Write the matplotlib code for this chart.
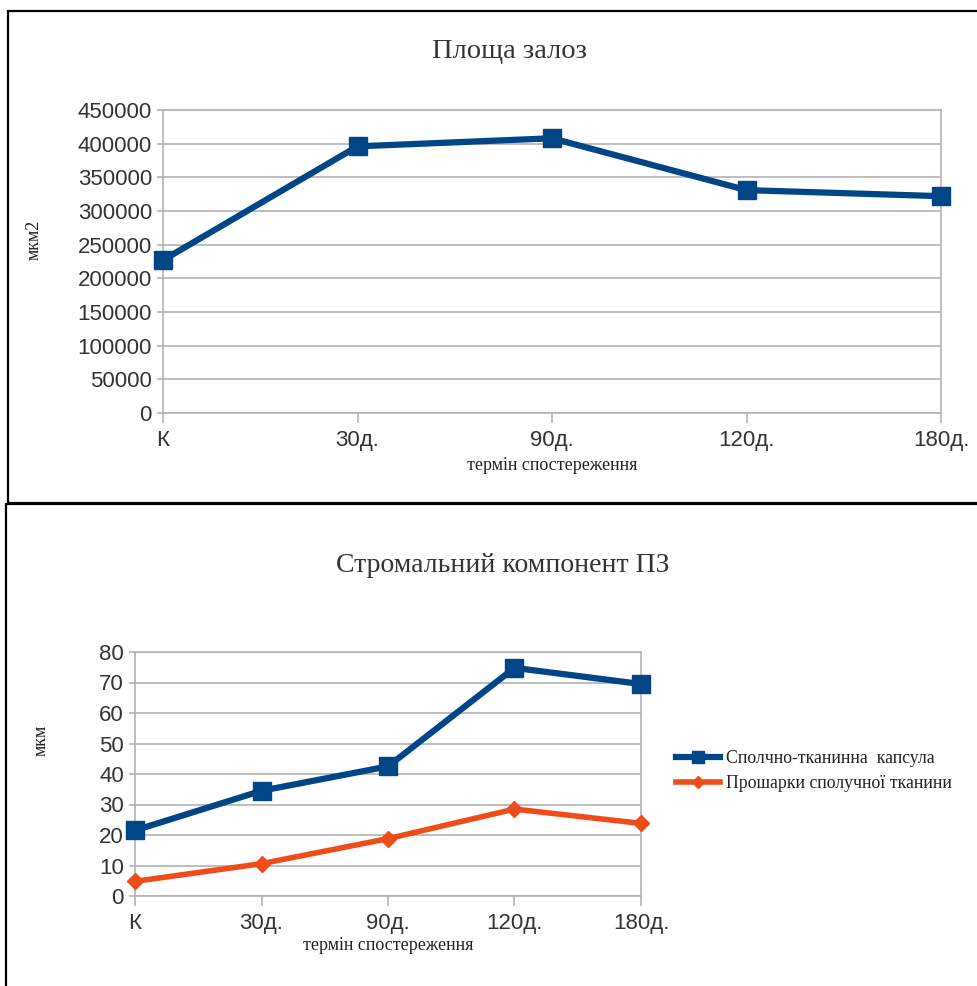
import matplotlib.pyplot as plt
from matplotlib.patches import Rectangle
from matplotlib.lines import Line2D

# observation terms
categories = ["К", "30д.", "90д.", "120д.", "180д."]

# gland area, mkm^2
area = [227000, 396000, 408000, 331000, 322000]

# stromal component, mkm
capsule = [21.5, 34.5, 42.5, 74.8, 69.5]
layers = [4.8, 10.6, 18.8, 28.5, 23.8]

blue = "#004586"
orange = "#ee4d1a"
grid_col = "#b3b3b3"
text_col = "#333333"
sans = "Liberation Sans"
serif = "Liberation Serif"

fig = plt.figure(figsize=(9.77, 9.86), dpi=100)
W, H = 977, 986


def px_axes(x0, y0, x1, y1):
    # axes from pixel box (top-left origin)
    return fig.add_axes([x0 / W, 1 - y1 / H, (x1 - x0) / W, (y1 - y0) / H])


def style_axes(ax, yticks, ymax):
    x = range(len(categories))
    ax.set_xlim(0, len(categories) - 1)
    ax.set_ylim(0, ymax)
    ax.set_xticks(list(x))
    ax.set_xticklabels(categories, fontfamily=sans, fontsize=16, color=text_col)
    ax.set_yticks(yticks)
    ax.set_yticklabels([str(v) for v in yticks], fontfamily=sans, fontsize=16,
                       color=text_col)
    ax.yaxis.grid(True, color=grid_col, lw=1.2)
    ax.set_axisbelow(True)
    for s in ax.spines.values():
        s.set_color(grid_col)
        s.set_linewidth(1.2)
    ax.tick_params(axis="x", length=7, width=1.2, color=grid_col, pad=5)
    ax.tick_params(axis="y", length=4, width=1.2, color=grid_col, pad=4)


# panel frames
fig.add_artist(Rectangle((8 / W, 1 - 503 / H), 1.0, 492 / H, transform=fig.transFigure,
                         fill=False, ec="black", lw=1.6))
fig.add_artist(Rectangle((6 / W, 1 - 1000 / H), 1.0, 496 / H, transform=fig.transFigure,
                         fill=False, ec="black", lw=1.6))

# top chart
ax1 = px_axes(163, 110, 941, 413)
style_axes(ax1, list(range(0, 450001, 50000)), 450000)
ax1.plot(range(len(categories)), area, color=blue, lw=4.5, marker="s", ms=13,
         clip_on=False, zorder=3)
ax1.set_xlabel("термін спостереження", fontfamily=serif, fontsize=13, color="#222222")
ax1.xaxis.set_label_coords(0.5, -(457 - 413) / 303)
ax1.set_ylabel("мкм2", fontfamily=serif, fontsize=13, color="#222222")
ax1.yaxis.set_label_coords((43 - 163) / 778, (413 - 240) / 303)
fig.text(510 / W, 1 - 52 / H, "Площа залоз", fontfamily=serif, fontsize=20.5,
         color=text_col, ha="center", va="center")

# bottom chart
ax2 = px_axes(135, 652, 641, 896)
style_axes(ax2, list(range(0, 81, 10)), 80)
ax2.plot(range(len(categories)), capsule, color=blue, lw=4.5, marker="s", ms=13,
         clip_on=False, zorder=3)
ax2.plot(range(len(categories)), layers, color=orange, lw=4, marker="D", ms=8.5,
         clip_on=False, zorder=3)
ax2.set_xlabel("термін спостереження", fontfamily=serif, fontsize=13, color="#222222")
ax2.xaxis.set_label_coords(0.5, -(937 - 896) / 244)
ax2.set_ylabel("мкм", fontfamily=serif, fontsize=13, color="#222222")
ax2.yaxis.set_label_coords((50 - 135) / 506, (896 - 740) / 244)
fig.text(503 / W, 1 - 566 / H, "Стромальний компонент ПЗ", fontfamily=serif, fontsize=20,
         color=text_col, ha="center", va="center")

handles = [Line2D([], [], color=blue, lw=4.5, marker="s", ms=8),
           Line2D([], [], color=orange, lw=4, marker="D", ms=6)]
fig.legend(handles, ["Сполчно-тканинна  капсула", "Прошарки сполучної тканини"],
           loc="upper left", bbox_to_anchor=(660 / W, 1 - 734 / H), frameon=False,
           prop={"family": serif, "size": 12.8}, handlelength=2.5, handletextpad=0.3,
           labelspacing=0.45, labelcolor="#222222")

fig.savefig("out.png", dpi=100)
